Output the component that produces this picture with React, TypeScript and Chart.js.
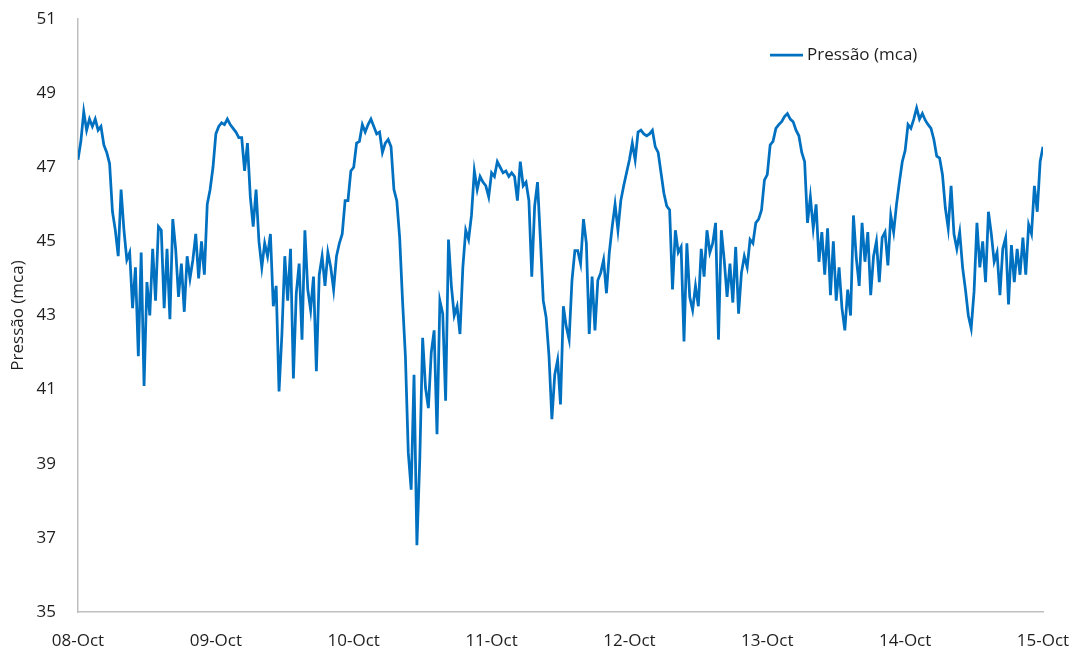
import { useEffect, useRef } from "react";
import { Chart, registerables } from "chart.js";

Chart.register(...registerables);

// Day tick labels, one per 24 h
const dayLabels = ["08-Oct", "09-Oct", "10-Oct", "11-Oct", "12-Oct", "13-Oct", "14-Oct", "15-Oct"];

// Pressure readings every 30 minutes (mca), one array per day
const day08 = [47.2, 47.7, 48.5, 48.0, 48.3, 48.1, 48.3, 48.0, 48.1, 47.6, 47.4, 47.1, 45.8, 45.3, 44.6, 46.4, 45.3, 44.5, 44.7, 43.2, 44.3, 41.9, 44.7, 41.1, 43.9, 43.0, 44.8, 43.4, 45.4, 45.3, 43.2, 44.8, 42.9, 45.6, 44.8, 43.5, 44.4, 43.1, 44.6, 44.0, 44.5, 45.2, 44.0, 45.0, 44.1, 46.0, 46.4, 47.0];
const day09 = [47.9, 48.1, 48.2, 48.15, 48.3, 48.15, 48.05, 47.95, 47.8, 47.8, 46.9, 47.65, 46.2, 45.4, 46.4, 45.0, 44.3, 44.95, 44.6, 45.2, 43.25, 43.8, 40.95, 42.5, 44.6, 43.4, 44.8, 41.3, 43.6, 44.4, 42.35, 45.3, 43.7, 43.15, 44.05, 41.5, 44.1, 44.6, 43.8, 44.7, 44.3, 43.7, 44.6, 44.95, 45.2, 46.1, 46.1, 46.9];
const day10 = [47.0, 47.65, 47.7, 48.15, 47.95, 48.15, 48.3, 48.1, 47.9, 47.95, 47.4, 47.65, 47.75, 47.55, 46.4, 46.1, 45.1, 43.4, 41.9, 39.3, 38.3, 41.4, 36.8, 39.1, 42.4, 41.05, 40.5, 42.0, 42.6, 39.8, 43.4, 43.05, 40.7, 45.05, 43.8, 43.0, 43.25, 42.5, 44.3, 45.3, 45.05, 45.7, 46.9, 46.4, 46.75, 46.6, 46.5, 46.2];
const day11 = [46.85, 46.75, 47.15, 47.0, 46.85, 46.9, 46.75, 46.85, 46.75, 46.1, 47.15, 46.5, 46.6, 46.1, 44.05, 45.95, 46.6, 45.05, 43.4, 42.95, 41.9, 40.2, 41.4, 41.8, 40.6, 43.25, 42.7, 42.35, 43.95, 44.75, 44.75, 44.4, 45.6, 44.95, 42.5, 44.05, 42.6, 43.95, 44.15, 44.5, 43.6, 44.7, 45.4, 46.0, 45.3, 46.1, 46.5, 46.85];
const day12 = [47.2, 47.65, 47.2, 47.95, 48.0, 47.9, 47.85, 47.9, 48.0, 47.55, 47.4, 46.85, 46.3, 45.95, 45.85, 43.7, 45.3, 44.7, 44.85, 42.3, 44.95, 43.5, 43.15, 43.8, 43.25, 44.8, 44.05, 45.3, 44.7, 44.95, 45.5, 42.35, 45.3, 44.5, 43.5, 44.4, 43.35, 44.85, 43.05, 44.15, 44.6, 44.3, 45.05, 44.95, 45.5, 45.6, 45.85, 46.65];
const day13 = [46.8, 47.6, 47.7, 48.05, 48.15, 48.23, 48.37, 48.45, 48.3, 48.23, 48.0, 47.85, 47.4, 47.15, 45.5, 46.2, 45.35, 46.0, 44.45, 45.25, 44.1, 45.35, 43.55, 45.0, 43.4, 44.3, 43.2, 42.6, 43.7, 43.0, 45.7, 44.55, 43.8, 45.5, 44.45, 45.25, 43.55, 44.6, 45.0, 43.9, 45.1, 45.25, 44.35, 45.7, 45.25, 46.0, 46.6, 47.15];
const day14 = [47.45, 48.15, 48.05, 48.3, 48.6, 48.3, 48.45, 48.27, 48.15, 48.05, 47.75, 47.3, 47.25, 46.8, 45.9, 45.35, 46.5, 45.2, 44.8, 45.25, 44.3, 43.7, 43.0, 42.65, 43.65, 45.5, 44.3, 45.0, 43.9, 45.8, 45.2, 44.45, 44.7, 43.55, 44.8, 45.1, 43.3, 44.9, 43.9, 44.8, 44.1, 45.1, 44.1, 45.45, 45.2, 46.5, 45.8, 47.15];
// Reading at 15-Oct 00:00
const day15 = [47.55];

const STEP_HOURS = 0.5;
const SERIES_LABEL = "Pressão (mca)";

const pressure = [...day08, ...day09, ...day10, ...day11, ...day12, ...day13, ...day14, ...day15];

const LINE_COLOR = "#0070C0";
const TEXT_COLOR = "#1F1F1F";
const AXIS_COLOR = "#BFBFBF";
const FONT_FAMILY = "'Open Sans', 'Noto Sans', sans-serif";

// Legend drawn inside the plot, near the top right
const insideLegend = {
  id: "insideLegend",
  afterDraw(chart: any) {
    const { ctx } = chart;
    const x0 = 770;
    const y0 = 55;
    ctx.save();
    ctx.strokeStyle = LINE_COLOR;
    ctx.lineWidth = 2.75;
    ctx.beginPath();
    ctx.moveTo(x0, y0);
    ctx.lineTo(x0 + 33, y0);
    ctx.stroke();
    ctx.fillStyle = TEXT_COLOR;
    ctx.font = `17px ${FONT_FAMILY}`;
    ctx.textBaseline = "middle";
    ctx.textAlign = "left";
    ctx.fillText(SERIES_LABEL, x0 + 37, y0);
    ctx.restore();
  },
};

export default function App() {
  const canvasRef = useRef<HTMLCanvasElement>(null);

  useEffect(() => {
    document.body.style.margin = "0";
    const canvas = canvasRef.current;
    if (!canvas) return;
    const points = pressure.map((y, i) => ({ x: i * STEP_HOURS, y }));
    const tickFont = { family: FONT_FAMILY, size: 17 };

    const chart = new Chart(canvas, {
      type: "line",
      data: {
        datasets: [
          {
            label: SERIES_LABEL,
            data: points,
            borderColor: LINE_COLOR,
            backgroundColor: LINE_COLOR,
            borderWidth: 2.75,
            pointRadius: 0,
            tension: 0,
            fill: false,
          },
        ],
      },
      options: {
        animation: false,
        responsive: false,
        layout: { padding: { top: 19, right: 38, left: 0, bottom: 0 } },
        plugins: {
          legend: { display: false },
          tooltip: { enabled: false },
        },
        scales: {
          x: {
            type: "linear",
            min: 0,
            max: 168,
            afterFit: (s: any) => {
              s.height = 41;
              s.paddingLeft = 0;
              s.paddingRight = 0;
            },
            ticks: {
              stepSize: 24,
              autoSkip: false,
              maxRotation: 0,
              padding: 19,
              color: TEXT_COLOR,
              font: tickFont,
              callback: (v: any) => dayLabels[Math.round(Number(v) / 24)],
            },
            grid: { display: false, drawTicks: false },
            border: { display: true, color: AXIS_COLOR, width: 1.5 },
          },
          y: {
            type: "linear",
            min: 35,
            max: 51,
            afterFit: (s: any) => {
              s.width = 78;
              s.paddingTop = 0;
              s.paddingBottom = 0;
            },
            ticks: {
              stepSize: 2,
              padding: 22,
              color: TEXT_COLOR,
              font: tickFont,
            },
            grid: { display: false, drawTicks: false },
            border: { display: true, color: AXIS_COLOR, width: 1.5 },
            title: {
              display: true,
              text: SERIES_LABEL,
              color: TEXT_COLOR,
              font: tickFont,
              padding: { top: 8, bottom: 0 },
            },
          },
        },
      },
      plugins: [insideLegend],
    });

    return () => chart.destroy();
  }, []);

  return (
    <div style={{ width: 1081, height: 653 }}>
      <canvas ref={canvasRef} width={1081} height={653} />
    </div>
  );
}
